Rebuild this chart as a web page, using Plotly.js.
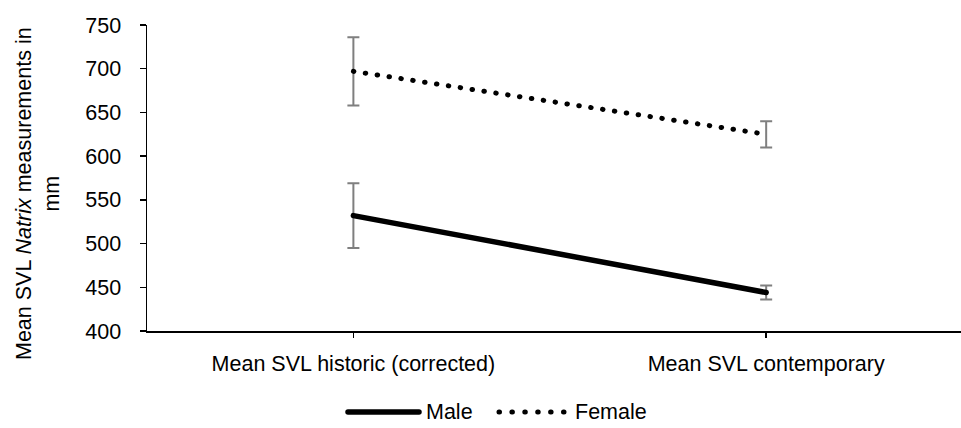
<!DOCTYPE html>
<html>
<head>
<meta charset="utf-8">
<script src="https://cdn.plot.ly/plotly-3.0.1.min.js"></script>
<style>
  html, body { margin: 0; padding: 0; background: #fff; }
  #chart { width: 961px; height: 428px; }
  /* round line ends so the dotted series reads as dots */
  .js-line, .shapelayer path { stroke-linecap: round; }
</style>
</head>
<body>
<div id="chart"></div>
<script>
// Mean snout-vent length (mm), historic vs contemporary samples
const categories = ['Mean SVL historic (corrected)', 'Mean SVL contemporary'];
const seriesNames = ['Male', 'Female'];
const maleMean = [532, 444];
const maleErr = [37, 8];
const femaleMean = [697, 625];
const femaleErr = [39, 15];
const yTicks = [400, 450, 500, 550, 600, 650, 700, 750];

const W = 961, H = 428;
const M = {l: 147, r: 0, t: 25, b: 97};
const plotW = W - M.l - M.r, plotH = H - M.t - M.b;
const px = x => (x - M.l) / plotW;      // pixel -> paper x
const py = y => (H - M.b - y) / plotH;  // pixel -> paper y

const font = {family: 'Liberation Sans, Arial, sans-serif', size: 21.5, color: '#000'};
const errStyle = {type: 'data', visible: true, color: '#7f7f7f', thickness: 2, width: 6};

const traces = [
  {
    x: categories, y: maleMean, name: seriesNames[0], mode: 'lines',
    line: {color: '#000', width: 5.5},
    error_y: Object.assign({array: maleErr}, errStyle),
    showlegend: false, hoverinfo: 'skip'
  },
  {
    x: categories, y: femaleMean, name: seriesNames[1], mode: 'lines',
    line: {color: '#000', width: 5, dash: '0.5px,11.5px'},
    error_y: Object.assign({array: femaleErr}, errStyle),
    showlegend: false, hoverinfo: 'skip'
  }
];

// legend drawn below the plot: line samples + labels
const legY = 412;
const shapes = [
  {type: 'line', xref: 'paper', yref: 'paper', x0: px(348), x1: px(419), y0: py(legY), y1: py(legY),
   line: {color: '#000', width: 5.5}},
  {type: 'line', xref: 'paper', yref: 'paper', x0: px(499), x1: px(564), y0: py(legY), y1: py(legY),
   line: {color: '#000', width: 5, dash: '0.5px,12.4px'}}
];

const annotations = [
  {xref: 'paper', yref: 'paper', x: px(424), y: py(legY), xanchor: 'left', yanchor: 'middle',
   text: seriesNames[0], showarrow: false, font: font},
  {xref: 'paper', yref: 'paper', x: px(573), y: py(legY), xanchor: 'left', yanchor: 'middle',
   text: seriesNames[1], showarrow: false, font: font},
  {xref: 'paper', yref: 'paper', x: px(38), y: py(194), xanchor: 'center', yanchor: 'middle',
   textangle: -90, text: 'Mean SVL <i>Natrix</i> measurements in<br>mm', showarrow: false, font: font}
];

const layout = {
  width: W, height: H,
  margin: M,
  paper_bgcolor: '#fff', plot_bgcolor: '#fff',
  font: font,
  showlegend: false,
  xaxis: {
    type: 'category', range: [-0.5, 1.472],
    showline: true, linecolor: '#000', linewidth: 1.5,
    ticks: 'outside', ticklen: 5, tickcolor: '#000', tickwidth: 1.5,
    showgrid: false, zeroline: false, fixedrange: true,
    ticklabelstandoff: 8,
    tickfont: font
  },
  yaxis: {
    range: [400, 750], tickvals: yTicks, ticktext: yTicks.map(String),
    showline: true, linecolor: '#000', linewidth: 1.5,
    ticks: 'outside', ticklen: 6, tickcolor: '#000', tickwidth: 1.5,
    showgrid: false, zeroline: false, fixedrange: true,
    ticklabelstandoff: 14,
    tickfont: font
  },
  shapes: shapes,
  annotations: annotations
};

Plotly.newPlot('chart', traces, layout, {displayModeBar: false, staticPlot: true});
</script>
</body>
</html>
